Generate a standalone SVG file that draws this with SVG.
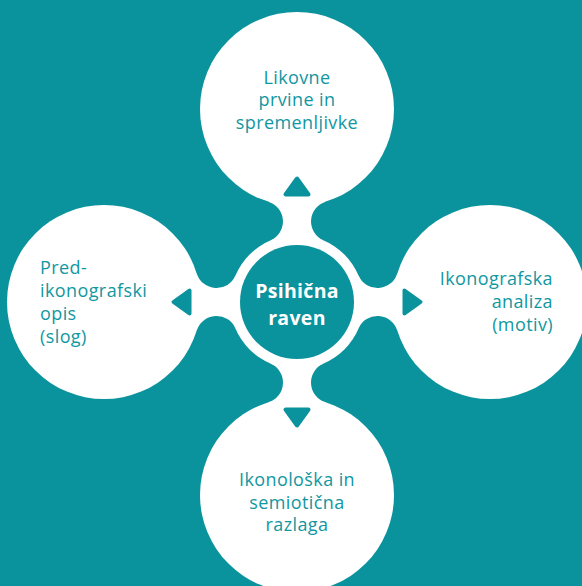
<svg xmlns="http://www.w3.org/2000/svg" width="582" height="586" viewBox="0 0 582 586">
<style>
.bg{fill:#0a939d}
.w{fill:#ffffff}
.tri{fill:#0a939d;stroke:#0a939d;stroke-width:4;stroke-linejoin:round}
.t{font-family:"Open Sans","Liberation Sans",sans-serif;font-size:18px;fill:#1197a1;letter-spacing:0.4px}
.c{font-family:"Open Sans","Liberation Sans",sans-serif;font-size:19.5px;font-weight:700;fill:#ffffff;letter-spacing:0.3px}
</style>
<rect class="bg" x="0" y="0" width="582" height="586"/>
<g id="connectors">
  <path class="w" d="M268.4,201.69 A20.7,20.7 0 0 1 270.49,240.47 L323.51,240.47 A20.7,20.7 0 0 1 325.6,201.69 Z"/>
  <path class="w" d="M268.4,402.31 A20.7,20.7 0 0 0 270.49,363.53 L323.51,363.53 A20.7,20.7 0 0 0 325.6,402.31 Z"/>
  <path class="w" d="M196.69,273.4 A20.7,20.7 0 0 0 235.47,275.49 L235.47,328.51 A20.7,20.7 0 0 0 196.69,330.6 Z"/>
  <path class="w" d="M397.31,273.4 A20.7,20.7 0 0 1 358.53,275.49 L358.53,328.51 A20.7,20.7 0 0 1 397.31,330.6 Z"/>
</g>
<g id="node-top">
  <circle class="w" cx="297" cy="109" r="97"/>
  <text class="t" text-anchor="middle"><tspan x="297" y="83.5">Likovne</tspan><tspan x="297" y="106">prvine in</tspan><tspan x="297" y="128.5">spremenljivke</tspan></text>
</g>
<g id="node-left">
  <circle class="w" cx="104" cy="302" r="97"/>
  <text class="t"><tspan x="40" y="273.5">Pred-</tspan><tspan x="40" y="296.8">ikonografski</tspan><tspan x="40" y="320">opis</tspan><tspan x="40" y="343">(slog)</tspan></text>
</g>
<g id="node-right">
  <circle class="w" cx="490" cy="302" r="97"/>
  <text class="t" text-anchor="end"><tspan x="553" y="285">Ikonografska</tspan><tspan x="553" y="308">analiza</tspan><tspan x="553" y="330.5">(motiv)</tspan></text>
</g>
<g id="node-bottom">
  <circle class="w" cx="297" cy="495" r="97"/>
  <text class="t" text-anchor="middle"><tspan x="297" y="486">Ikonološka in</tspan><tspan x="297" y="508.5">semiotična</tspan><tspan x="297" y="530.5">razlaga</tspan></text>
</g>
<g id="node-center">
  <circle class="w" cx="297" cy="302" r="67"/>
  <circle class="bg" cx="297" cy="302" r="57"/>
  <text class="c" text-anchor="middle"><tspan x="297" y="297.5">Psihična</tspan><tspan x="297" y="325">raven</tspan></text>
</g>
<g id="arrows">
  <polygon class="tri" points="285.5,194.5 308.5,194.5 297,178.5"/>
  <polygon class="tri" points="285.5,409.5 308.5,409.5 297,425.5"/>
  <polygon class="tri" points="189.5,290.5 189.5,313.5 173.5,302"/>
  <polygon class="tri" points="404.5,290.5 404.5,313.5 420.5,302"/>
</g>
</svg>
